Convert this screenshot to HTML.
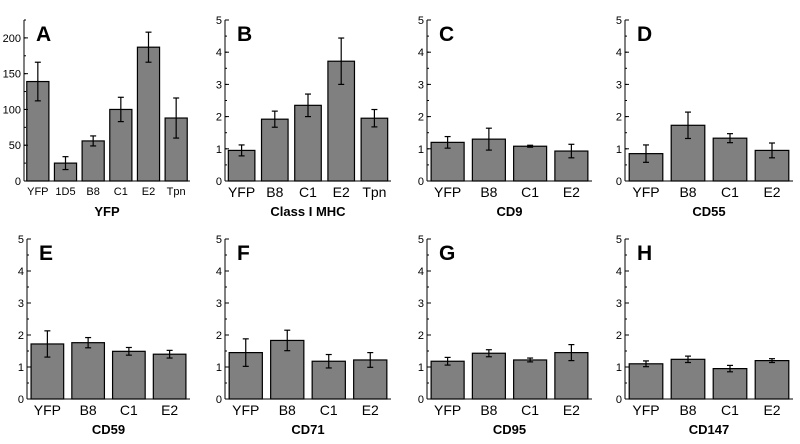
<!DOCTYPE html>
<html><head><meta charset="utf-8"><style>
html,body{margin:0;padding:0;background:#fff;}
svg{display:block;font-family:"Liberation Sans",Arial,sans-serif;}
</style></head><body>
<svg id="fig" width="800" height="444" viewBox="0 0 800 444"></svg>
<script>
const catsA = ["YFP","1D5","B8","C1","E2","Tpn"];
const catsB = ["YFP","B8","C1","E2","Tpn"];
const cats4 = ["YFP","B8","C1","E2"];
const valsA = [139,25,56,100,187,88];
const errsA = [27,9,7,17,21,28];
const valsB = [0.95,1.92,2.35,3.72,1.95];
const errsB = [0.17,0.25,0.35,0.72,0.27];
const valsC = [1.2,1.3,1.08,0.93];
const errsC = [0.18,0.34,0.03,0.21];
const valsD = [0.85,1.73,1.33,0.95];
const errsD = [0.27,0.41,0.14,0.23];
const valsE = [1.72,1.76,1.49,1.4];
const errsE = [0.41,0.16,0.12,0.12];
const valsF = [1.45,1.83,1.18,1.22];
const errsF = [0.43,0.32,0.21,0.23];
const valsG = [1.18,1.43,1.22,1.45];
const errsG = [0.12,0.11,0.06,0.25];
const valsH = [1.1,1.24,0.95,1.2];
const errsH = [0.09,0.1,0.1,0.06];
const ticksA = [0,50,100,150,200];
const ticks5 = [0,1,2,3,4,5];

const NS="http://www.w3.org/2000/svg";
const svg=document.getElementById('fig');
function mk(tag,attrs,parent){const e=document.createElementNS(NS,tag);for(const k in attrs)e.setAttribute(k,attrs[k]);(parent||svg).appendChild(e);return e;}

const panels=[
 {id:"a",letter:"A",title:"YFP",cats:catsA,vals:valsA,errs:errsA,ticks:ticksA,max:225,minor:25,x0:24,x1:190,top:20,bot:181,fs:11},
 {id:"b",letter:"B",title:"Class I MHC",cats:catsB,vals:valsB,errs:errsB,ticks:ticks5,max:5,minor:0.5,x0:225,x1:391,top:20,bot:181,fs:14},
 {id:"c",letter:"C",title:"CD9",cats:cats4,vals:valsC,errs:errsC,ticks:ticks5,max:5,minor:0.5,x0:427,x1:592,top:20,bot:181,fs:14},
 {id:"d",letter:"D",title:"CD55",cats:cats4,vals:valsD,errs:errsD,ticks:ticks5,max:5,minor:0.5,x0:625,x1:793,top:20,bot:181,fs:14},
 {id:"e",letter:"E",title:"CD59",cats:cats4,vals:valsE,errs:errsE,ticks:ticks5,max:5,minor:0.5,x0:27,x1:190,top:239,bot:399,fs:14},
 {id:"f",letter:"F",title:"CD71",cats:cats4,vals:valsF,errs:errsF,ticks:ticks5,max:5,minor:0.5,x0:225,x1:391,top:239,bot:399,fs:14},
 {id:"g",letter:"G",title:"CD95",cats:cats4,vals:valsG,errs:errsG,ticks:ticks5,max:5,minor:0.5,x0:427,x1:592,top:239,bot:399,fs:14},
 {id:"h",letter:"H",title:"CD147",cats:cats4,vals:valsH,errs:errsH,ticks:ticks5,max:5,minor:0.5,x0:625,x1:793,top:239,bot:399,fs:14}
];

panels.forEach(p=>{
  const g=mk('g',{});
  
  
  const y=v=>p.bot-(v/p.max)*(p.bot-p.top);
  const band=(p.x1-p.x0)/p.cats.length;
  const bw=band*0.8;
  // bars
  p.cats.forEach((c,i)=>{
    const cx=p.x0+band*(i+0.5);
    const r=mk('rect',{x:cx-bw/2,y:y(p.vals[i]),width:bw,height:p.bot-y(p.vals[i]),fill:'#808080',stroke:'#000','stroke-width':1.2},g);
    
    
    const eg=mk('g',{stroke:'#000','stroke-width':1.2},g);
    
    
    const hi=y(p.vals[i]+p.errs[i]),lo=y(p.vals[i]-p.errs[i]);
    mk('line',{x1:cx,x2:cx,y1:hi,y2:lo},eg);
    mk('line',{x1:cx-3,x2:cx+3,y1:hi,y2:hi},eg);
    mk('line',{x1:cx-3,x2:cx+3,y1:lo,y2:lo},eg);
    const t=mk('text',{x:cx,y:p.bot+(p.fs>12?16:14),'text-anchor':'middle','font-size':p.fs,fill:'#000'},g);
    t.textContent=c;
    
    
  });
  // axes
  const ax=mk('g',{stroke:'#000','stroke-width':1},g);
  
  
  mk('line',{x1:p.x0,x2:p.x0,y1:p.top,y2:p.bot},ax);
  mk('line',{x1:p.x0,x2:p.x1,y1:p.bot,y2:p.bot},ax);
  for(let v=0;v<=p.max+1e-9;v+=p.minor){mk('line',{x1:p.x0,x2:p.x0+2,y1:y(v),y2:y(v)},ax);}
  p.ticks.forEach(v=>{
    mk('line',{x1:p.x0,x2:p.x0+4,y1:y(v),y2:y(v)},ax);
    const t=mk('text',{x:p.x0-3,y:y(v)+4,'text-anchor':'end','font-size':11,fill:'#000'},g);
    t.textContent=v;
    
    
  });
  const L=mk('text',{x:p.x0+12,y:p.top+21,'font-size':21,'font-weight':'bold',fill:'#000'},g);
  L.textContent=p.letter;
  
  
  const T=mk('text',{x:(p.x0+p.x1)/2,y:p.bot+35,'text-anchor':'middle','font-size':13,'font-weight':'bold',fill:'#000'},g);
  T.textContent=p.title;
  
  
});
</script>
</body></html>
